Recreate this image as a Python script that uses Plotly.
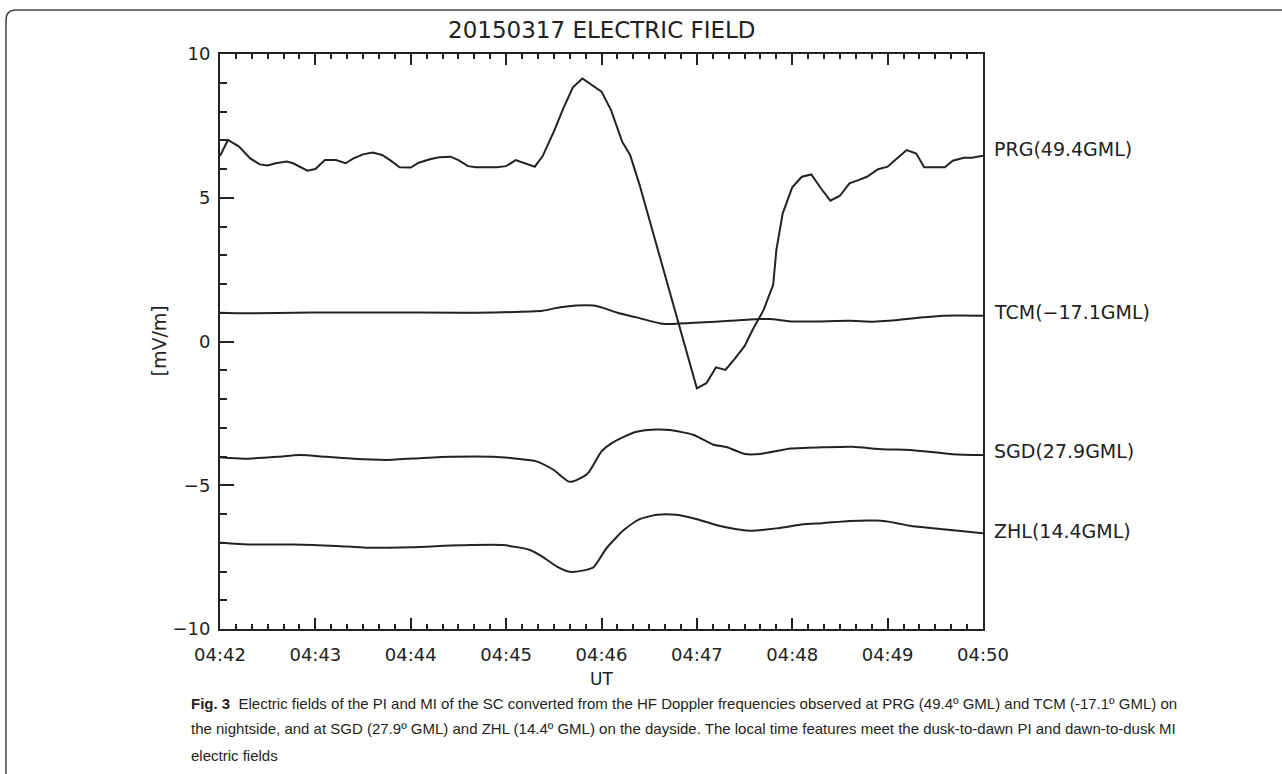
import datetime as dt
import plotly.graph_objects as go

# ---- data (seconds after 04:42:00 UT, values in mV/m) ----
prg_t = [0, 5, 12, 19, 25, 30, 35, 42, 46, 50, 55, 60, 66, 73, 79, 84, 90, 96, 102, 107,
         113, 120, 125, 132, 138, 145, 150, 156, 161, 174, 180, 186, 192, 198, 203, 210,
         216, 222, 228, 234, 240, 246, 253, 258, 264, 300, 306, 312, 318, 324, 330, 335,
         342, 348, 350, 354, 360, 366, 372, 378, 384, 390, 396, 402, 407, 414, 420, 426,
         432, 438, 443, 456, 461, 468, 473, 480]
prg_v = [6.45, 7.01, 6.78, 6.37, 6.16, 6.12, 6.2, 6.26, 6.2, 6.08, 5.94, 6.0, 6.31, 6.31,
         6.2, 6.37, 6.51, 6.57, 6.49, 6.31, 6.06, 6.05, 6.22, 6.34, 6.41, 6.43, 6.31, 6.1,
         6.06, 6.06, 6.1, 6.31, 6.2, 6.08, 6.45, 7.3, 8.11, 8.84, 9.15, 8.92, 8.69, 8.05,
         6.95, 6.49, 5.44, -1.63, -1.45, -0.9, -0.99, -0.59, -0.16, 0.4, 1.1, 1.97, 3.18,
         4.46, 5.36, 5.73, 5.81, 5.33, 4.9, 5.07, 5.5, 5.62, 5.73, 5.99, 6.08, 6.37, 6.66,
         6.54, 6.06, 6.06, 6.29, 6.39, 6.39, 6.46]

tcm_t = [0, 15, 57, 99, 151, 172, 203, 214, 224, 235, 241, 250, 262, 277, 285, 302, 321,
         340, 346, 359, 375, 396, 411, 421, 442, 455, 480]
tcm_v = [1.0, 0.98, 1.01, 1.01, 1.0, 1.01, 1.07, 1.19, 1.25, 1.25, 1.17, 1.0, 0.84, 0.63,
         0.61, 0.66, 0.72, 0.78, 0.78, 0.70, 0.70, 0.72, 0.69, 0.72, 0.84, 0.90, 0.90]

sgd_t = [0, 15, 36, 50, 67, 84, 105, 128, 145, 172, 187, 199, 210, 220, 231, 240, 246, 252,
         262, 275, 283, 298, 310, 319, 330, 340, 359, 379, 398, 417, 434, 461, 480]
sgd_v = [-4.03, -4.08, -4.01, -3.95, -4.01, -4.08, -4.12, -4.05, -4.01, -4.01, -4.08, -4.17,
         -4.47, -4.88, -4.61, -3.82, -3.55, -3.37, -3.14, -3.06, -3.08, -3.25, -3.58, -3.68,
         -3.91, -3.91, -3.72, -3.68, -3.66, -3.75, -3.77, -3.92, -3.95]

zhl_t = [0, 19, 46, 73, 92, 120, 151, 178, 195, 203, 212, 220, 228, 235, 243, 254, 264, 275,
         287, 300, 312, 325, 333, 350, 367, 379, 396, 413, 426, 434, 455, 480]
zhl_v = [-7.0, -7.06, -7.06, -7.11, -7.17, -7.16, -7.09, -7.08, -7.25, -7.49, -7.83, -8.01,
         -7.97, -7.85, -7.2, -6.56, -6.18, -6.03, -6.03, -6.18, -6.38, -6.53, -6.58, -6.5,
         -6.36, -6.32, -6.24, -6.23, -6.32, -6.41, -6.53, -6.67]

station_labels = ["PRG(49.4GML)", "TCM(\u221217.1GML)", "SGD(27.9GML)", "ZHL(14.4GML)"]
label_y = [6.7, 1.03, -3.82, -6.6]

caption_lines = [
    "<b>Fig. 3</b>  Electric fields of the PI and MI of the SC converted from the HF Doppler frequencies observed at PRG (49.4º GML) and TCM (-17.1º GML) on",
    "the nightside, and at SGD (27.9º GML) and ZHL (14.4º GML) on the dayside. The local time features meet the dusk-to-dawn PI and dawn-to-dusk MI",
    "electric fields",
]

base = dt.datetime(2015, 3, 17, 4, 42, 0)


def to_time(ts):
    return [base + dt.timedelta(seconds=s) for s in ts]


LINE = "#222222"
FONT = "DejaVu Sans, Liberation Sans, sans-serif"

fig = go.Figure()
fig.add_trace(go.Scatter(x=to_time(prg_t), y=prg_v, mode="lines",
                         line=dict(color=LINE, width=2)))
for ts, vs in [(tcm_t, tcm_v), (sgd_t, sgd_v), (zhl_t, zhl_v)]:
    fig.add_trace(go.Scatter(x=to_time(ts), y=vs, mode="lines",
                             line=dict(color=LINE, width=2, shape="spline", smoothing=0.6)))

W, H = 1282, 774
L, R, T, B = 220, 299, 54, 145
pw, ph = W - L - R, H - T - B


def px(x):
    return (x - L) / pw


def py(y):
    return (H - B - y) / ph


annotations = []
for txt, yv in zip(station_labels, label_y):
    annotations.append(dict(text=txt, x=1, xref="paper", y=yv, yref="y",
                            xanchor="left", yanchor="middle", xshift=9, showarrow=False,
                            font=dict(family=FONT, size=19, color="#222")))
annotations.append(dict(text="20150317 ELECTRIC FIELD", x=0.5, xref="paper", y=py(30),
                        yref="paper", xanchor="center", yanchor="middle", showarrow=False,
                        font=dict(family=FONT, size=23, color="#222")))
annotations.append(dict(text="[mV/m]", x=px(158), xref="paper", y=0.5, yref="paper",
                        xanchor="center", yanchor="middle", textangle=-90, showarrow=False,
                        font=dict(family=FONT, size=19, color="#222")))
annotations.append(dict(text="UT", x=0.5, xref="paper", y=py(679), yref="paper",
                        xanchor="center", yanchor="middle", showarrow=False,
                        font=dict(family=FONT, size=17, color="#222")))
for i, line in enumerate(caption_lines):
    annotations.append(dict(text=line, x=px(189), xref="paper", y=py(703 + 26 * i),
                            yref="paper", xanchor="left", yanchor="middle", showarrow=False,
                            font=dict(family="Liberation Sans, Arial, sans-serif",
                                      size=15, color="#231f20")))

xl, yt, yb, xr = px(6), py(10), py(H), px(W)
rx, ry = 10 / pw, 10 / ph
frame = dict(type="path", xref="paper", yref="paper",
             path=f"M {xl},{yb} L {xl},{yt - ry} Q {xl},{yt} {xl + rx},{yt} L {xr},{yt}",
             line=dict(color="#444", width=1.5))

fig.update_layout(
    width=W, height=H, margin=dict(l=L, r=R, t=T, b=B),
    paper_bgcolor="white", plot_bgcolor="white", showlegend=False,
    font=dict(family=FONT, color="#222"),
    annotations=annotations, shapes=[frame],
    xaxis=dict(type="date", range=[base, base + dt.timedelta(minutes=8)],
               dtick=60000, tick0=base, tickformat="%H:%M",
               ticks="inside", ticklen=11, tickwidth=1.5, tickcolor="#222",
               minor=dict(dtick=10000, ticks="inside", ticklen=5, tickwidth=1.5, tickcolor="#222"),
               showline=True, linecolor="#222", linewidth=2, mirror="ticks",
               showgrid=False, zeroline=False,
               tickfont=dict(family=FONT, size=18, color="#222"), ticklabelstandoff=8),
    yaxis=dict(range=[-10, 10], dtick=5, tick0=0,
               ticks="inside", ticklen=14, tickwidth=1.5, tickcolor="#222",
               minor=dict(dtick=1, ticks="inside", ticklen=7, tickwidth=1.5, tickcolor="#222"),
               showline=True, linecolor="#222", linewidth=2, mirror=True,
               showgrid=False, zeroline=False,
               tickfont=dict(family=FONT, size=18, color="#222"), ticklabelstandoff=4),
    yaxis2=dict(range=[-10, 10], dtick=1, tick0=0, overlaying="y", side="right",
                ticks="inside", ticklen=14, tickwidth=1.5, tickcolor="#222",
                showticklabels=False, showline=False, showgrid=False, zeroline=False),
)

fig.write_html("out.html")
